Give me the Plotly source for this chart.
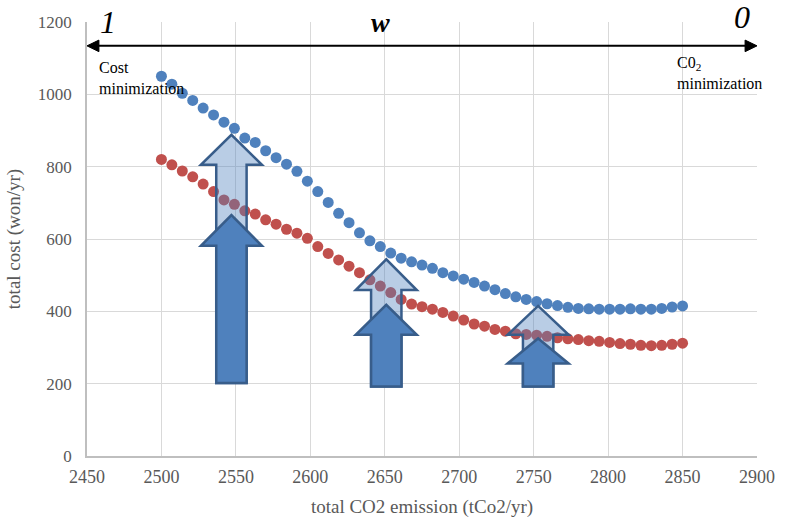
import plotly.graph_objects as go

# ---------------- data ----------------
emission = [2500 + 7 * i for i in range(51)]  # evenly spaced CO2 emission values (2500..2850)

cost_blue = [1050, 1028, 1003, 983, 962, 943, 923, 906, 879, 867,
             844, 825, 807, 787, 760, 731, 701, 671, 645, 617,
             595, 579, 561, 547, 537, 528, 519, 507, 498, 489,
             480, 470, 460, 449, 440, 433, 427, 421, 416, 411,
             408, 407, 406, 406, 406, 407, 406, 406, 408, 412, 415]

cost_red = [820, 805, 788, 772, 752, 731, 708, 696, 678, 669,
            653, 641, 627, 616, 602, 579, 560, 542, 525, 507,
            487, 470, 452, 433, 420, 413, 406, 397, 387, 376,
            365, 359, 350, 345, 338, 336, 334, 331, 327, 324,
            322, 319, 317, 314, 311, 309, 306, 305, 306, 309, 312]

x_ticks = [2450, 2500, 2550, 2600, 2650, 2700, 2750, 2800, 2850, 2900]
y_ticks = [0, 200, 400, 600, 800, 1000, 1200]

# block arrows (data units)
arrow_x = [2547, 2651, 2753]
light_tip = [888, 544, 415]
light_base = [805, 459, 335]
dark_tip = [666, 418, 325]
dark_base = [581, 335, 256]
arrow_bottom = [202, 192, 192]
head_half = 20.5
shaft_half = 10.2

# weight arrow across the top
w_line_y = 1134
w_x_min, w_x_max = 2450, 2900

BLUE = "#4F81BD"
RED = "#C0504D"
EDGE = "#385D8A"
SERIF = "Liberation Serif"
GREY = "#595959"


def up_arrow(xc, tip, base, bottom):
    return (f"M {xc - shaft_half},{bottom} L {xc - shaft_half},{base} "
            f"L {xc - head_half},{base} L {xc},{tip} L {xc + head_half},{base} "
            f"L {xc + shaft_half},{base} L {xc + shaft_half},{bottom} Z")


fig = go.Figure()
fig.add_trace(go.Scatter(x=emission, y=cost_blue, mode="markers",
                         marker=dict(color=BLUE, size=11), showlegend=False))
fig.add_trace(go.Scatter(x=emission, y=cost_red, mode="markers",
                         marker=dict(color=RED, size=11), showlegend=False))

shapes = []
for xc, lt, lb, dt, db, bt in zip(arrow_x, light_tip, light_base, dark_tip, dark_base, arrow_bottom):
    shapes.append(dict(type="path", xref="x", yref="y", layer="above",
                       path=up_arrow(xc, lt, lb, bt),
                       fillcolor="rgba(79,129,189,0.4)",
                       line=dict(color=EDGE, width=2.5)))
    shapes.append(dict(type="path", xref="x", yref="y", layer="above",
                       path=up_arrow(xc, dt, db, bt),
                       fillcolor=BLUE,
                       line=dict(color=EDGE, width=2.5)))

# top double-headed arrow
head_len = 8
head_h = 16
shapes.append(dict(type="line", xref="x", yref="y", x0=w_x_min + 4, x1=w_x_max - 4,
                   y0=w_line_y, y1=w_line_y, line=dict(color="black", width=2), layer="above"))
shapes.append(dict(type="path", xref="x", yref="y", layer="above",
                   path=f"M {w_x_min},{w_line_y} L {w_x_min + head_len},{w_line_y + head_h} "
                        f"L {w_x_min + head_len},{w_line_y - head_h} Z",
                   fillcolor="black", line=dict(color="black", width=1)))
shapes.append(dict(type="path", xref="x", yref="y", layer="above",
                   path=f"M {w_x_max},{w_line_y} L {w_x_max - head_len},{w_line_y + head_h} "
                        f"L {w_x_max - head_len},{w_line_y - head_h} Z",
                   fillcolor="black", line=dict(color="black", width=1)))

annotations = [
    dict(text="<i>1</i>", x=2464, y=1.0, xref="x", yref="paper", showarrow=False,
         font=dict(family=SERIF, size=32, color="black"), yanchor="middle"),
    dict(text="<b><i>w</i></b>", x=2647, y=0.998, xref="x", yref="paper", showarrow=False,
         font=dict(family=SERIF, size=28, color="black"), yanchor="middle"),
    dict(text="<i>0</i>", x=2890, y=1.012, xref="x", yref="paper", showarrow=False,
         font=dict(family=SERIF, size=32, color="black"), yanchor="middle"),
    dict(text="Cost<br>minimization", x=2457, y=1104, xref="x", yref="y", showarrow=False,
         xanchor="left", yanchor="top", align="left",
         font=dict(family=SERIF, size=16, color="black")),
    dict(text="C0<sub>2</sub><br>minimization", x=2845, y=1118, xref="x", yref="y", showarrow=False,
         xanchor="left", yanchor="top", align="left",
         font=dict(family=SERIF, size=16, color="black")),
]

fig.update_layout(
    width=791, height=526,
    margin=dict(l=87, r=34, t=22, b=70),
    paper_bgcolor="white", plot_bgcolor="white",
    shapes=shapes, annotations=annotations,
    font=dict(family=SERIF, color=GREY),
    xaxis=dict(range=[2450, 2900], tickvals=x_ticks, ticks="", automargin=False,
               showgrid=True, gridcolor="#D9D9D9", gridwidth=1,
               showline=True, linecolor="#BFBFBF", linewidth=1.5,
               zeroline=False, tickfont=dict(family=SERIF, size=18, color=GREY),
               ticklabelstandoff=4,
               title=dict(text="total CO2 emission (tCo2/yr)",
                          font=dict(family=SERIF, size=19, color=GREY), standoff=13)),
    yaxis=dict(range=[0, 1200], tickvals=y_ticks, ticks="", automargin=False,
               showgrid=True, gridcolor="#D9D9D9", gridwidth=1,
               showline=True, linecolor="#BFBFBF", linewidth=1.5,
               zeroline=False, tickfont=dict(family=SERIF, size=17, color=GREY),
               ticklabelstandoff=10,
               title=dict(text="total cost (won/yr)",
                          font=dict(family=SERIF, size=19, color=GREY), standoff=12)),
)

fig.write_html("out.html", config={"displayModeBar": False},
               post_script="document.body.style.margin='0px';")
